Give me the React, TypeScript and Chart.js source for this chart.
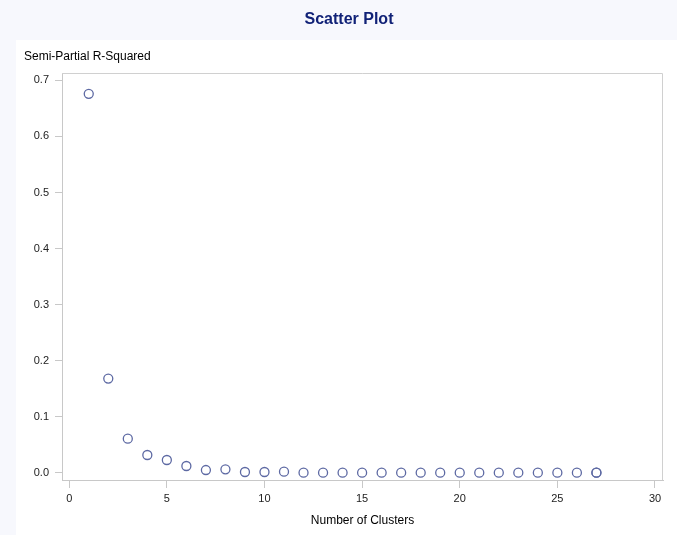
import React, { useEffect, useRef } from "react";
import { Chart, registerables } from "chart.js";

Chart.register(...registerables);

const chartTitle = "Scatter Plot";
const yAxisTitle = "Semi-Partial R-Squared";
const xAxisTitle = "Number of Clusters";

const clusters = [1, 2, 3, 4, 5, 6, 7, 8, 9, 10, 11, 12, 13, 14, 15, 16, 17, 18, 19, 20, 21, 22, 23, 24, 25, 26, 27, 27];
const semiPartialRSq = [
  0.676, 0.168, 0.0607, 0.0316, 0.0227, 0.012, 0.0048, 0.006, 0.0013, 0.0013, 0.0018, 0.0, 0.0, 0.0,
  0.0, 0.0, 0.0, 0.0, 0.0, 0.0, 0.0, 0.0, 0.0, 0.0, 0.0, 0.0, 0.0, 0.0,
];
const xTickValues = [0, 5, 10, 15, 20, 25, 30];
const yTickValues = [0, 0.1, 0.2, 0.3, 0.4, 0.5, 0.6, 0.7];

const FONT = "'Liberation Sans', Arial, sans-serif";

export default function App() {
  const ref = useRef<HTMLCanvasElement | null>(null);

  useEffect(() => {
    if (!ref.current) return;
    const decor = {
      id: "decor",
      beforeDraw(chart: any) {
        const { ctx, width, height, chartArea } = chart;
        ctx.save();
        ctx.fillStyle = "#f7f8fd";
        ctx.fillRect(0, 0, width, height);
        ctx.fillStyle = "#ffffff";
        ctx.fillRect(16, 40, width - 16, height - 40);
        ctx.fillStyle = "#112277";
        ctx.font = `bold 16px ${FONT}`;
        ctx.textAlign = "center";
        ctx.textBaseline = "middle";
        ctx.fillText(chartTitle, 349, 20);
        ctx.fillStyle = "#000000";
        ctx.font = `12px ${FONT}`;
        ctx.textAlign = "left";
        ctx.fillText(yAxisTitle, 24, 57);
        ctx.restore();
      },
      afterDatasetsDraw(chart: any) {
        const { ctx, chartArea } = chart;
        ctx.save();
        ctx.strokeStyle = "#d0d0d0";
        ctx.lineWidth = 1;
        ctx.beginPath();
        ctx.moveTo(chartArea.left, chartArea.top + 0.5);
        ctx.lineTo(chartArea.right - 0.5, chartArea.top + 0.5);
        ctx.lineTo(chartArea.right - 0.5, chartArea.bottom);
        ctx.stroke();
        ctx.restore();
      },
    };

    const chart = new Chart(ref.current, {
      type: "scatter",
      data: {
        datasets: [
          {
            data: clusters.map((c, i) => ({ x: c, y: semiPartialRSq[i] })),
            pointStyle: "circle",
            pointRadius: 4.5,
            pointBorderWidth: 1.3,
            pointBorderColor: "#5d69a3",
            pointBackgroundColor: "rgba(0,0,0,0)",
          },
        ],
      },
      options: {
        responsive: false,
        animation: false,
        layout: { padding: { left: 0, right: 14, top: 73, bottom: 0 } },
        plugins: { legend: { display: false }, tooltip: { enabled: false }, title: { display: false } },
        scales: {
          x: {
            type: "linear",
            min: -0.37,
            max: 30.41,
            afterBuildTicks: (s: any) => {
              s.ticks = xTickValues.map((v) => ({ value: v }));
            },
            afterFit: (s: any) => {
              s.height = 55;
            },
            grid: { drawOnChartArea: false, tickLength: 8, color: "#c8c8c8" },
            border: { display: true, color: "#c8c8c8" },
            ticks: { color: "#222", font: { family: FONT, size: 11 }, padding: 4 },
            title: {
              display: true,
              text: xAxisTitle,
              color: "#000",
              font: { family: FONT, size: 12 },
              padding: { top: 0, bottom: 7 },
            },
          },
          y: {
            type: "linear",
            min: -0.013,
            max: 0.7132,
            afterBuildTicks: (s: any) => {
              s.ticks = yTickValues.map((v) => ({ value: v }));
            },
            afterFit: (s: any) => {
              s.width = 62;
            },
            grid: { drawOnChartArea: false, tickLength: 7, color: "#c8c8c8" },
            border: { display: true, color: "#c8c8c8" },
            ticks: {
              color: "#222",
              font: { family: FONT, size: 11 },
              padding: 6,
              callback: (v: any) => Number(v).toFixed(1),
            },
          },
        },
      },
      plugins: [decor],
    });
    return () => chart.destroy();
  }, []);

  return (
    <div style={{ position: "fixed", left: 0, top: 0, width: 677, height: 535 }}>
      <canvas ref={ref} width={677} height={535} style={{ display: "block" }} />
    </div>
  );
}
